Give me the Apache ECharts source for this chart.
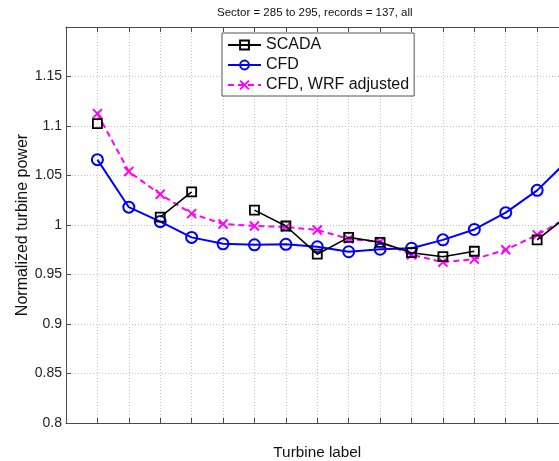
<!DOCTYPE html>
<html>
<head>
<meta charset="utf-8">
<script src="https://cdn.jsdelivr.net/npm/echarts@6/dist/echarts.min.js"></script>
<style>
  html, body { margin: 0; padding: 0; background: #fff; }
  #chart { width: 559px; height: 461px; }
</style>
</head>
<body>
<div id="chart"></div>
<script>
// Turbine index along the row
const turbines = [1, 2, 3, 4, 5, 6, 7, 8, 9, 10, 11, 12, 13, 14, 15, 16];

// Normalized power per turbine (null = no SCADA value)
const scada  = [1.1025, null, 1.008, 1.0335, null, 1.015, 0.999, 0.9705, 0.9875, 0.9825, 0.972, 0.968, 0.9735, null, 0.985, 1.010];
const cfd    = [1.066, 1.018, 1.0035, 0.9875, 0.981, 0.980, 0.9805, 0.978, 0.973, 0.9755, 0.9765, 0.985, 0.9955, 1.0125, 1.035, 1.066];
const cfdWrf = [1.1125, 1.054, 1.031, 1.0115, 1.001, 0.999, 0.998, 0.995, 0.986, 0.983, 0.970, 0.9625, 0.9655, 0.975, 0.990, 1.008];

const seriesNames = ['SCADA', 'CFD', 'CFD, WRF adjusted'];
const yTicks = [0.8, 0.85, 0.9, 0.95, 1, 1.05, 1.1, 1.15];

const FONT = 'Liberation Sans, Arial, Helvetica, sans-serif';
const AXIS_COLOR = '#4a4a4a';
const GRID_COLOR = '#c4c4c4';

const pairs = arr => turbines.map((t, i) => [t, arr[i]]);

const chart = echarts.init(document.getElementById('chart'), null, { renderer: 'canvas' });

chart.setOption({
  animation: false,
  backgroundColor: '#fff',
  textStyle: { fontFamily: FONT },
  title: {
    text: 'Sector = 285 to 295, records = 137, all',
    left: 212,
    top: 2,
    textStyle: { fontFamily: FONT, fontSize: 11.5, fontWeight: 'normal', color: '#111' }
  },
  // the plot box runs a little past the right edge of the page
  grid: { left: 66, top: 27, width: 16 * 31.41, height: 396, containLabel: false, outerBoundsMode: 'none' },
  legend: {
    orient: 'vertical',
    left: 222,
    top: 33,
    data: seriesNames,
    itemWidth: 33,
    itemHeight: 11,
    itemGap: 4,
    padding: [4, 5, 3, 5],
    backgroundColor: '#fff',
    borderColor: '#555',
    borderWidth: 1,
    borderRadius: 0,
    selectedMode: false,
    textStyle: { fontFamily: FONT, fontSize: 16, color: '#111' }
  },
  xAxis: [
    {
      type: 'value',
      position: 'bottom',
      min: 0,
      max: 16,
      interval: 1,
      name: 'Turbine label',
      nameLocation: 'middle',
      nameGap: 22,
      nameMoveOverlap: false,
      nameTextStyle: { fontFamily: FONT, fontSize: 15.3, color: '#111' },
      axisLine: { show: true, onZero: false, lineStyle: { color: AXIS_COLOR, width: 1 } },
      axisTick: { show: true, inside: true, length: 5, lineStyle: { color: AXIS_COLOR } },
      axisLabel: { show: false },
      splitLine: { show: true, lineStyle: { color: GRID_COLOR, width: 1, type: [1, 2] } }
    },
    {
      type: 'value',
      position: 'top',
      min: 0,
      max: 16,
      interval: 1,
      axisLine: { show: true, onZero: false, lineStyle: { color: AXIS_COLOR, width: 1 } },
      axisTick: { show: true, inside: true, length: 5, lineStyle: { color: AXIS_COLOR } },
      axisLabel: { show: false },
      splitLine: { show: false }
    }
  ],
  yAxis: {
    type: 'value',
    min: 0.8,
    max: 1.2,
    interval: 0.05,
    name: 'Normalized turbine power',
    nameLocation: 'middle',
    nameGap: 35,
    nameMoveOverlap: false,
    nameTextStyle: { fontFamily: FONT, fontSize: 16, color: '#111' },
    axisLine: { show: true, onZero: false, lineStyle: { color: AXIS_COLOR, width: 1 } },
    axisTick: { show: true, inside: true, length: 5, lineStyle: { color: AXIS_COLOR } },
    axisLabel: {
      margin: 4,
      fontFamily: FONT,
      fontSize: 14,
      color: '#222',
      formatter: v => {
        const hit = yTicks.find(t => Math.abs(t - v) < 1e-6);
        return hit === undefined ? '' : String(hit);
      }
    },
    splitLine: { show: true, lineStyle: { color: GRID_COLOR, width: 1, type: [1, 2] } }
  },
  series: [
    {
      name: seriesNames[0],
      type: 'line',
      data: pairs(scada),
      connectNulls: false,
      symbol: 'rect',
      symbolSize: 9,
      showAllSymbol: true,
      lineStyle: { color: '#000', width: 1.6 },
      itemStyle: { color: 'rgba(0,0,0,0)', borderColor: '#000', borderWidth: 1.8 },
      z: 3
    },
    {
      name: seriesNames[1],
      type: 'line',
      data: pairs(cfd),
      symbol: 'circle',
      symbolSize: 11,
      showAllSymbol: true,
      lineStyle: { color: '#0000ff', width: 2 },
      itemStyle: { color: 'rgba(0,0,0,0)', borderColor: '#0000ff', borderWidth: 2 },
      z: 2
    },
    {
      name: seriesNames[2],
      type: 'line',
      data: pairs(cfdWrf),
      symbol: 'path://M0,0L10,10M10,0L0,10',
      symbolSize: 9,
      showAllSymbol: true,
      lineStyle: { color: '#ff00ff', width: 2, type: [6, 4] },
      itemStyle: { color: 'rgba(0,0,0,0)', borderColor: '#ff00ff', borderWidth: 2 },
      z: 1
    }
  ]
});
</script>
</body>
</html>
